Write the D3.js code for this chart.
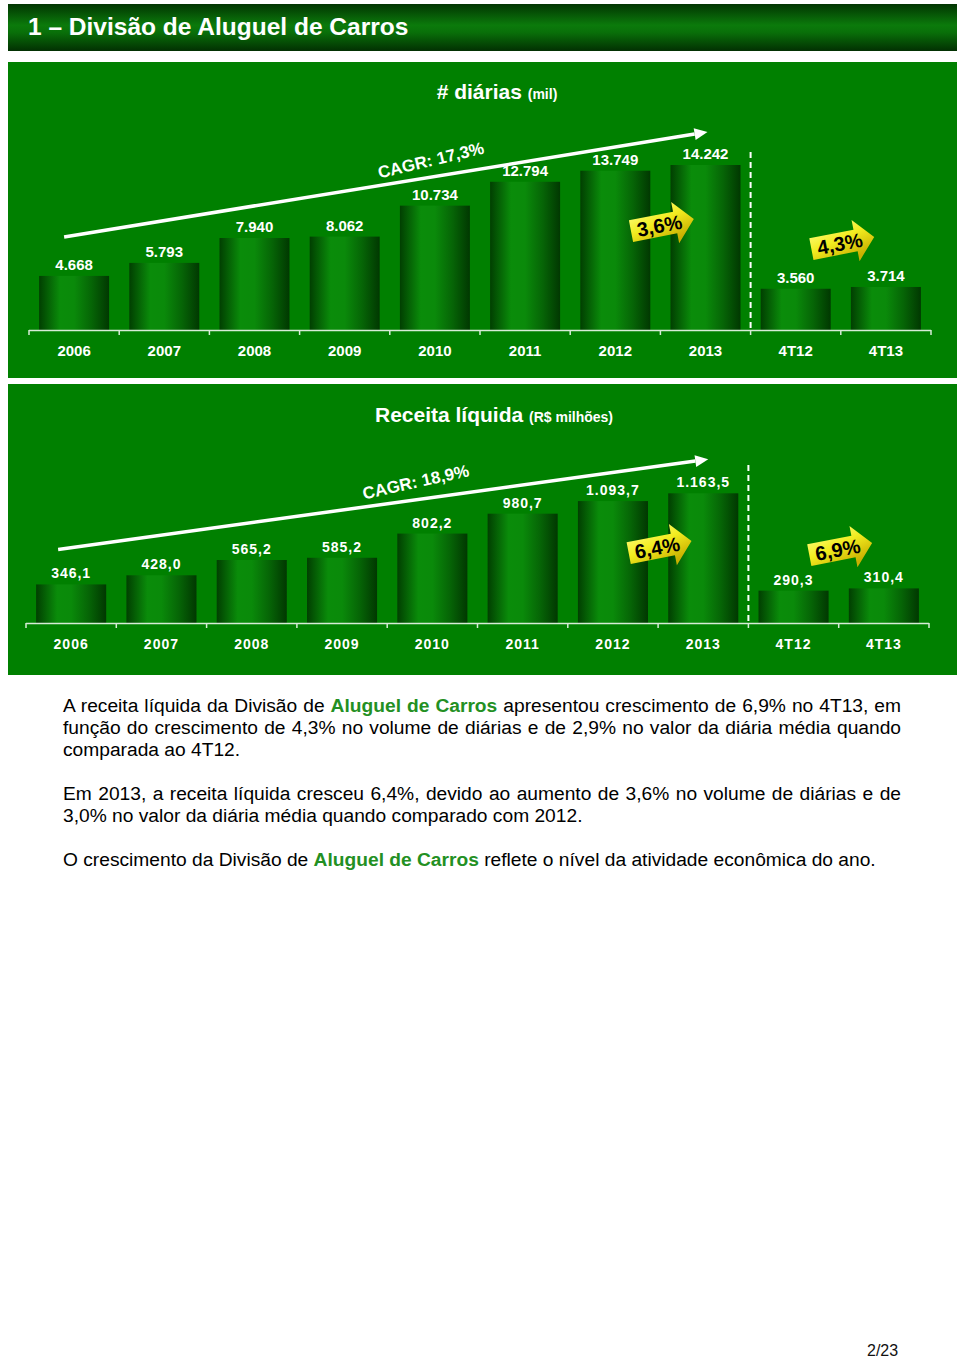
<!DOCTYPE html>
<html><head><meta charset="utf-8">
<script src="https://cdn.jsdelivr.net/npm/d3@7"></script>
<style>
body{margin:0;background:#fff;width:960px;height:1359px;overflow:hidden;font-family:"Liberation Sans",Arial,sans-serif;position:relative}
#txt{position:absolute;left:63px;top:695px;width:838px;font-size:19.2px;color:#000}
.l{line-height:22px;height:22px;white-space:nowrap}
.j{text-align:justify;text-align-last:justify;white-space:normal}
.g{color:#239023;font-weight:bold}
.gap{height:22px}
#pg{position:absolute;left:867px;top:1342px;font-size:16px;color:#111}
</style></head><body>
<svg id="chart" width="960" height="1359" style="position:absolute;left:0;top:0"></svg>
<div id="txt">
<div class="l j">A receita líquida da Divisão de <span class="g">Aluguel de Carros</span> apresentou crescimento de 6,9% no 4T13, em</div>
<div class="l j">função do crescimento de 4,3% no volume de diárias e de 2,9% no valor da diária média quando</div>
<div class="l">comparada ao 4T12.</div>
<div class="gap"></div>
<div class="l j">Em 2013, a receita líquida cresceu 6,4%, devido ao aumento de 3,6% no volume de diárias e de</div>
<div class="l">3,0% no valor da diária média quando comparado com 2012.</div>
<div class="gap"></div>
<div class="l">O crescimento da Divisão de <span class="g">Aluguel de Carros</span> reflete o nível da atividade econômica do ano.</div>
</div>
<div id="pg">2/23</div>
<script>
// ---------- DATA ----------
const categories = ['2006','2007','2008','2009','2010','2011','2012','2013','4T12','4T13'];
const annualCategories = ['2006','2007','2008','2009','2010','2011','2012','2013'];
const diarias = [4668, 5793, 7940, 8062, 10734, 12794, 13749, 14242, 3560, 3714];
const receita = [346.1, 428.0, 565.2, 585.2, 802.2, 980.7, 1093.7, 1163.5, 290.3, 310.4];
const growthPairs = [['2012','2013'], ['4T12','4T13']];
const pageTitle = '1 – Divisão de Aluguel de Carros';
const titles1 = ['# diárias', '(mil)'];
const titles2 = ['Receita líquida', '(R$ milhões)'];

// ---------- helpers ----------
const br = d3.formatLocale({decimal: ",", thousands: ".", grouping: [3], currency: ["R$ ", ""]});
const fmtInt = br.format(",.0f");
const fmtDec = br.format(",.1f");
const fmtPct = v => br.format(".1f")(v * 100) + "%";

const svg = d3.select('#chart');
const defs = svg.append('defs');

const hg = defs.append('linearGradient').attr('id','hdr').attr('x1',0).attr('x2',0).attr('y1',0).attr('y2',1);
[[0,'#023502'],[0.45,'#0b7a0b'],[0.6,'#097009'],[1,'#023002']].forEach(s=>hg.append('stop').attr('offset',s[0]).attr('stop-color',s[1]));

const bg = defs.append('linearGradient').attr('id','bar').attr('x1',0).attr('x2',1).attr('y1',0).attr('y2',0);
[[0,'#013f01'],[0.3,'#0a8c0a'],[0.5,'#0a8a0a'],[0.75,'#066506'],[1,'#013801']].forEach(s=>bg.append('stop').attr('offset',s[0]).attr('stop-color',s[1]));

const yg = defs.append('linearGradient').attr('id','badge').attr('x1',0).attr('x2',0.4).attr('y1',0).attr('y2',1);
[[0,'#ffff8a'],[0.5,'#f2ec20'],[1,'#c9b000']].forEach(s=>yg.append('stop').attr('offset',s[0]).attr('stop-color',s[1]));

// Header
svg.append('rect').attr('x',8).attr('y',4).attr('width',949).attr('height',47).attr('fill','url(#hdr)');
svg.append('text').attr('x',28).attr('y',35).attr('fill','#fff').attr('font-size',24.5).attr('font-weight','bold').text(pageTitle);

function drawChart(cfg) {
  const g = svg.append('g');
  g.append('rect').attr('x',8).attr('y',cfg.panelTop).attr('width',949).attr('height',cfg.panelH).attr('fill','#008000');

  const t = g.append('text').attr('x',cfg.titleX).attr('y',cfg.titleY).attr('text-anchor','middle').attr('fill','#fff').attr('font-weight','bold');
  t.append('tspan').attr('font-size',21).text(cfg.titles[0] + ' ');
  t.append('tspan').attr('font-size',14).text(cfg.titles[1]);

  const x = d3.scaleBand().domain(categories).range([cfg.x0, cfg.x1]).paddingInner(0.224).paddingOuter(0.112);
  const y = d3.scaleLinear().domain([0, d3.max(cfg.values)]).range([cfg.base, cfg.maxTop]);
  const data = categories.map((c,i)=>({c, v: cfg.values[i]}));

  g.selectAll('rect.bar').data(data).join('rect').attr('class','bar')
    .attr('x', d=>x(d.c)).attr('width', x.bandwidth())
    .attr('y', d=>y(d.v)).attr('height', d=>cfg.base - y(d.v)).attr('fill','url(#bar)');

  g.selectAll('text.val').data(data).join('text').attr('class','val')
    .attr('x', d=>x(d.c)+x.bandwidth()/2).attr('y', d=>y(d.v)-6)
    .attr('text-anchor','middle').attr('fill','#fff').attr('font-weight','bold').attr('font-size',cfg.fs)
    .attr('letter-spacing', cfg.ls).text(d=>cfg.fmt(d.v));

  // axis
  const step = x.step();
  g.append('line').attr('x1',cfg.x0).attr('x2',cfg.x1).attr('y1',cfg.base+0.5).attr('y2',cfg.base+0.5).attr('stroke','#d6ecd6').attr('stroke-width',1.5);
  g.selectAll('line.tk').data(d3.range(categories.length+1)).join('line').attr('class','tk')
    .attr('x1', i=>cfg.x0 + i*step).attr('x2', i=>cfg.x0 + i*step)
    .attr('y1', cfg.base).attr('y2', cfg.base+5).attr('stroke','#d6ecd6').attr('stroke-width',1.5);
  g.selectAll('text.cat').data(categories).join('text').attr('class','cat')
    .attr('x', c=>x(c)+x.bandwidth()/2).attr('y', cfg.base+26)
    .attr('text-anchor','middle').attr('fill','#fff').attr('font-weight','bold').attr('font-size',cfg.fs)
    .attr('letter-spacing', cfg.ls).text(c=>c);

  // dashed separator
  const sepX = cfg.x0 + annualCategories.length*step;
  g.append('line').attr('x1',sepX).attr('x2',sepX).attr('y1',cfg.dashTop).attr('y2',cfg.base)
    .attr('stroke','#fff').attr('stroke-width',2).attr('stroke-dasharray','6,4');

  // CAGR arrow
  const first = annualCategories[0], last = annualCategories[annualCategories.length-1];
  const vFirst = cfg.values[0], vLast = cfg.values[annualCategories.length-1];
  const p0 = [x(first)+x.bandwidth()/2 + cfg.cagrDx0, y(vFirst) + cfg.cagrDy0];
  const p1 = [x(last)+x.bandwidth()/2 + cfg.cagrDx1, y(vLast) + cfg.cagrDy1];
  const ang = Math.atan2(p1[1]-p0[1], p1[0]-p0[0]);
  const ah = 13, aw = 6;
  const pb = [p1[0]-ah*Math.cos(ang), p1[1]-ah*Math.sin(ang)];
  g.append('line').attr('x1',p0[0]).attr('y1',p0[1]).attr('x2',pb[0]).attr('y2',pb[1]).attr('stroke','#fff').attr('stroke-width',3.5);
  g.append('polygon').attr('fill','#fff').attr('points', [
    p1, [pb[0]+aw*Math.sin(ang), pb[1]-aw*Math.cos(ang)], [pb[0]-aw*Math.sin(ang), pb[1]+aw*Math.cos(ang)]
  ].map(p=>p.join(',')).join(' '));
  const n = annualCategories.length - 1;
  const cagr = Math.pow(vLast / vFirst, 1/n) - 1;
  const tc = [p0[0] + (p1[0]-p0[0])*cfg.cagrPos, p0[1] + (p1[1]-p0[1])*cfg.cagrPos - cfg.cagrUp];
  g.append('text').attr('transform',`translate(${tc[0]},${tc[1]}) rotate(${cfg.cagrRot})`)
    .attr('text-anchor','middle').attr('dy','0.35em').attr('fill','#fff').attr('font-weight','bold').attr('font-size',17)
    .text('CAGR: ' + fmtPct(cagr));

  // growth badges
  growthPairs.forEach((pair, k) => {
    const ia = categories.indexOf(pair[0]), ib = categories.indexOf(pair[1]);
    const gr = cfg.values[ib]/cfg.values[ia] - 1;
    const cx = (x(pair[0]) + x(pair[1]) + x.bandwidth())/2 + 2;
    const cy = cfg.badgeY[k];
    const bgp = g.append('g').attr('transform',`translate(${cx},${cy}) rotate(-11)`);
    bgp.append('polygon').attr('points','-32,-11 13,-11 13,-21 32,0 13,21 13,11 -32,11').attr('fill','url(#badge)');
    bgp.append('text').attr('x',-3).attr('y',0).attr('dy','0.36em').attr('text-anchor','middle')
      .attr('font-weight','bold').attr('font-size',20).attr('fill','#000').text(fmtPct(gr));
  });
}

drawChart({panelTop:62, panelH:316, titleX:497, titleY:99, titles:titles1,
  x0:29, x1:931, base:330, maxTop:165, values:diarias, fmt:fmtInt, ls:0, fs:15, dashTop:152,
  cagrDx0:-10, cagrDy0:-39, cagrDx1:2, cagrDy1:-33, cagrPos:0.57, cagrUp:17, cagrRot:-13.5,
  badgeY:[225, 243]});

drawChart({panelTop:384, panelH:291, titleX:494, titleY:422, titles:titles2,
  x0:26, x1:929, base:623, maxTop:493.3, values:receita, fmt:fmtDec, ls:1, fs:14, dashTop:465,
  cagrDx0:-13, cagrDy0:-35, cagrDx1:5, cagrDy1:-34, cagrPos:0.55, cagrUp:18, cagrRot:-12.5,
  badgeY:[547, 549]});
</script>
</body></html>
